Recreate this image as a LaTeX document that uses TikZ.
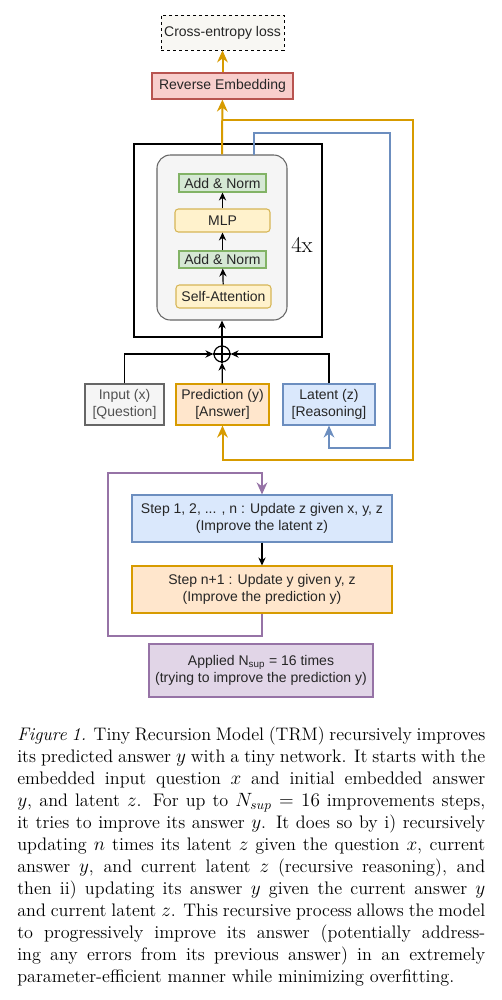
\documentclass[tikz,border=0pt]{standalone}
\usepackage{fontspec}
\setsansfont{Liberation Sans}
\usepackage{amsmath}
\usepackage{tikz}
\usetikzlibrary{arrows.meta}
\usetikzlibrary{shapes}
\definecolor{txt}{HTML}{262626}
\definecolor{odraw}{HTML}{D79B00}\definecolor{ofill}{HTML}{FFE6CC}
\definecolor{bdraw}{HTML}{6C8EBF}\definecolor{bfill}{HTML}{DAE8FC}
\definecolor{gdraw}{HTML}{82B366}\definecolor{gfill}{HTML}{D5E8D4}
\definecolor{rdraw}{HTML}{B85450}\definecolor{rfill}{HTML}{F8CECC}
\definecolor{pdraw}{HTML}{9673A6}\definecolor{pfill}{HTML}{E1D5E7}
\definecolor{ydraw}{HTML}{D6B656}\definecolor{yfill}{HTML}{FFF2CC}
\definecolor{kdraw}{HTML}{666666}\definecolor{kfill}{HTML}{F5F5F5}
\definecolor{lfill}{HTML}{F8F7F3}
\tikzstyle{box} = [draw, inner sep=0pt, align=center, text=txt, line width=0.8pt, font=\sffamily\fontsize{10.5}{13}\selectfont]
\tikzstyle{obox} = [box, draw=odraw, fill=ofill]
\tikzstyle{bbox} = [box, draw=bdraw, fill=bfill]
\tikzstyle{gbox} = [box, draw=gdraw, fill=gfill]
\tikzstyle{rbox} = [box, draw=rdraw, fill=rfill]
\tikzstyle{pbox} = [box, draw=pdraw, fill=pfill]
\tikzstyle{ybox} = [box, draw=ydraw, fill=yfill, rounded corners=2.5pt]
\tikzstyle{kbox} = [box, draw=kdraw, fill=kfill]
\tikzstyle{blk} = [draw=black, line width=0.9pt, -{Stealth[length=6pt,width=5.5pt]}]
\tikzstyle{oarr} = [draw=odraw, line width=1.5pt, -{Stealth[length=9pt,width=8pt]}]
\tikzstyle{barr} = [draw=bdraw, line width=1.5pt, -{Stealth[length=9pt,width=8pt]}]
\tikzstyle{parr} = [draw=pdraw, line width=1.5pt, -{Stealth[length=9pt,width=8pt]}]

\begin{document}
\begin{tikzpicture}[x=0.75pt,y=-0.75pt]
\useasboundingbox (0,0) rectangle (501,1000);

\node[box, draw=black, line width=0.6pt, dash pattern=on 2.5pt off 2pt, fill=lfill, minimum width=92.25pt, minimum height=26.25pt] (loss) at (222.5,32.5) {Cross-entropy loss};
\node[rbox, minimum width=105.75pt, minimum height=19.5pt] (revemb) at (222.5,86) {Reverse Embedding};

\node[draw, line width=0.8pt, minimum width=141pt, minimum height=144.75pt] (block) at (228,240.5) {};
\node[box, draw=kdraw, fill=kfill, rounded corners=10pt, minimum width=97.5pt, minimum height=123.75pt] (inner) at (222,237.5) {};
\node[gbox, minimum width=65.25pt, minimum height=13.5pt] (addtop) at (222.5,183) {Add \& Norm};
\node[ybox, minimum width=71.25pt, minimum height=17.25pt] (mlp) at (222.5,220.5) {MLP};
\node[gbox, minimum width=65.25pt, minimum height=12.75pt] (addbot) at (222.5,259.5) {Add \& Norm};
\node[ybox, minimum width=71.25pt, minimum height=17.25pt] (selfatt) at (223.5,296.5) {Self-Attention};
\node[font=\fontsize{17}{17}\selectfont] (rep) at (302,245) {4x};

\node[circle, draw, line width=0.9pt, minimum size=12pt, inner sep=0pt] (plus) at (222,354) {};
\draw[line width=0.9pt] (plus.north) -- (plus.south) (plus.west) -- (plus.east);

\node[kbox, text=txt!80, minimum width=59.25pt, minimum height=30.75pt] (inp) at (124.5,404.5) {Input (x)\\{}[Question]};
\node[obox, minimum width=69.75pt, minimum height=30.75pt] (pred) at (222.5,404.5) {Prediction (y)\\{}[Answer]};
\node[bbox, minimum width=69pt, minimum height=30.75pt] (lat) at (329,404.5) {Latent (z)\\{}[Reasoning]};

\node[bbox, minimum width=195pt, minimum height=35.25pt] (stepz) at (262,518.5) {Step 1, 2, ... , n : Update z given x, y, z\\(Improve the latent z)};
\node[obox, minimum width=195pt, minimum height=35.25pt] (stepy) at (262,589.5) {Step n+1 : Update y given y, z\\(Improve the prediction y)};
\node[pbox, minimum width=168pt, minimum height=39.75pt] (nsup) at (261,670.5) {Applied N\textsubscript{sup} = 16 times\\(trying to improve the prediction y)};

\coordinate (osplit) at (222,120);
\coordinate (oturn) at (413,460);
\coordinate (bout) at (254,155);
\coordinate (bturn1) at (390,133);
\coordinate (bturn2) at (390,448);
\coordinate (pbot) at (262,636);
\coordinate (ptop) at (108,473);

\draw[oarr] (revemb) -- (loss);
\draw[oarr] (inner.north) -- (revemb);
\draw[oarr] (osplit) -| (oturn) -| (pred.south);
\draw[barr] (bout) |- (bturn1) -- (bturn2) -| (lat.south);

\draw[blk] (selfatt) -- (addbot);
\draw[blk] (addbot) -- (mlp);
\draw[blk] (mlp) -- (addtop);
\draw[blk] (plus) -- (inner);
\draw[blk] (pred) -- (plus);
\draw[blk] (inp.north) |- (plus.west);
\draw[blk] (lat.north) |- (plus.east);

\draw[parr] (stepy.south) -- (pbot) -| (ptop) -| (stepz.north);
\draw[blk] (stepz) -- (stepy);

\node[anchor=north west, inner sep=0pt, text width=351pt, align=justify, font=\fontsize{13.6}{16.5}\selectfont] (caption) at (17,727) {\textit{Figure 1.} Tiny Recursion Model (TRM) recursively improves\linebreak
its predicted answer $y$ with a tiny network. It starts with the\linebreak
embedded input question $x$ and initial embedded answer\linebreak
$y$, and latent $z$. For up to $N_{sup} = 16$ improvements steps,\linebreak
it tries to improve its answer $y$. It does so by i) recursively\linebreak
updating $n$ times its latent $z$ given the question $x$, current\linebreak
answer $y$, and current latent $z$ (recursive reasoning), and\linebreak
then ii) updating its answer $y$ given the current answer $y$\linebreak
and current latent $z$. This recursive process allows the model\linebreak
to progressively improve its answer (potentially address-\linebreak
ing any errors from its previous answer) in an extremely\linebreak
parameter-efficient manner while minimizing overfitting.};
\end{tikzpicture}
\end{document}
